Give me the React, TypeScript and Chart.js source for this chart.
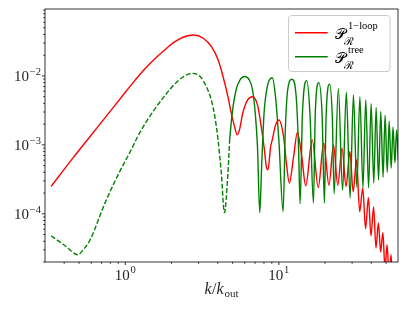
import React, { useEffect, useRef } from 'react';
import { Chart, registerables } from 'chart.js';
Chart.register(...registerables);

// ---- data ----
// tree-level, negative branch (plotted as |P|, dashed)
const treeNegK = [0.329, 0.402, 0.492, 0.525, 0.59, 0.737, 0.897, 1.093, 1.2, 1.33, 1.54, 1.79, 2.07, 2.40, 2.74, 3.07, 3.37, 3.63, 3.83, 4.02, 4.22, 4.42, 4.66, 4.78];
const treeNegP = [4.8e-5, 3.5e-5, 2.55e-5, 2.9e-5, 4.2e-5, 1.43e-4, 3.67e-4, 8.5e-4, 1.3e-3, 1.95e-3, 3.2e-3, 5.0e-3, 7.4e-3, 9.8e-3, 1.09e-2, 9.8e-3, 7.0e-3, 4.5e-3, 2.57e-3, 1.18e-3, 3.9e-4, 1.04e-4, 3.9e-4, 1.18e-3];

// tree-level, positive branch (solid)
const treePosK = [4.78, 4.97, 5.27, 5.59, 5.97, 6.42, 6.74, 7.02, 7.26, 7.51, 7.74, 8.01, 8.41, 9.06, 9.51, 10.0, 10.66, 11.02, 11.42, 12.17, 12.97, 13.43, 13.75, 14.25, 15.2, 15.94, 16.8, 17.27, 18.2, 19.15, 19.8, 20.3, 21.4, 22.3, 22.9, 24.4, 26.0, 27.5, 29.1, 30.6, 32.2, 33.7, 35.3, 36.8, 38.4, 39.9, 41.5, 43.0, 44.6, 46.1, 47.7, 49.2, 50.8, 52.3, 53.9, 55.4, 57.0, 58.5, 60.0];
const treePosP = [1.18e-3, 2.88e-3, 6.3e-3, 8.75e-3, 9.8e-3, 8.75e-3, 6.3e-3, 2.88e-3, 9.4e-4, 1.04e-4, 5.4e-4, 2.88e-3, 7.0e-3, 9.4e-3, 5.0e-3, 1.18e-3, 1.08e-4, 1.65e-3, 6.3e-3, 8.95e-3, 5.0e-3, 9.4e-4, 1.4e-4, 2.88e-3, 8.55e-3, 2.88e-3, 1.43e-4, 2.88e-3, 8.0e-3, 2.57e-3, 1.43e-4, 2.5e-3, 7.6e-3, 2.5e-3, 1.95e-4, 6.6e-3, 2.2e-4, 5.8e-3, 1.7e-4, 5.3e-3, 2.45e-4, 5.0e-3, 2.4e-4, 4.5e-3, 2.4e-4, 4.0e-3, 2.8e-4, 3.45e-3, 3.1e-4, 3.05e-3, 3.4e-4, 2.7e-3, 4.0e-4, 2.2e-3, 4.6e-4, 1.8e-3, 5.5e-4, 1.65e-3, 6.0e-4];

// one-loop
const loopK = [0.329, 0.45, 0.737, 1.0, 1.16, 1.33, 1.54, 1.79, 2.07, 2.40, 2.78, 3.22, 3.64, 4.02, 4.33, 4.66, 4.90, 5.15, 5.35, 5.54, 5.82, 6.26, 6.74, 7.26, 7.62, 8.01, 8.29, 8.5, 8.84, 9.06, 9.5, 10.0, 10.73, 11.2, 11.7, 12.48, 13.2, 14.1, 14.96, 16.5, 18.05, 19.6, 21.2, 22.7, 24.2, 25.8, 27.4, 29.0, 30.5, 32.05, 33.6, 35.2, 36.7, 38.3, 39.8, 41.4, 42.9, 44.5, 46.0, 47.6, 49.1, 50.7, 52.2, 53.8, 55.3, 56.9, 58.4, 60.0];
const loopP = [2.5e-4, 6.2e-4, 2.46e-3, 5.8e-3, 8.7e-3, 1.24e-2, 1.73e-2, 2.34e-2, 3.06e-2, 3.67e-2, 3.93e-2, 3.52e-2, 2.66e-2, 1.71e-2, 9.8e-3, 5.0e-3, 2.88e-3, 1.84e-3, 1.40e-3, 1.65e-3, 2.88e-3, 4.5e-3, 5.0e-3, 3.8e-3, 2.06e-3, 9.4e-4, 4.85e-4, 4.35e-4, 9.4e-4, 1.18e-3, 1.9e-3, 2.3e-3, 1.32e-3, 5.4e-4, 2.8e-4, 6.8e-4, 1.51e-3, 6.8e-4, 2.55e-4, 1.18e-3, 2.4e-4, 1.06e-3, 2.6e-4, 1.0e-3, 2.6e-4, 8.9e-4, 2.5e-4, 8.0e-4, 2.08e-4, 6.1e-4, 1.07e-4, 2.38e-4, 6.07e-5, 1.71e-4, 4.8e-5, 1.26e-4, 3.2e-5, 7.4e-5, 2.8e-5, 5.3e-5, 1.6e-5, 3.56e-5, 1.2e-5, 2.55e-5, 8e-6, 1.8e-5, 6e-6, 1.2e-5];

// axes
const X_MIN = 0.329;
const X_MAX = 59.7;
const Y_MIN = 2.0e-5;
const Y_MAX = 9.35e-2;
const xMajorTicks = [1, 10];
const xTickExps = ['0', '1'];
const xMinorTicks = [0.4, 0.5, 0.6, 0.7, 0.8, 0.9, 2, 3, 4, 5, 6, 7, 8, 9, 20, 30, 40, 50];
const yMajorTicks = [1e-4, 1e-3, 1e-2];
const yTickExps = ['\u22124', '\u22123', '\u22122'];
const yMinorTicks = [2e-5, 3e-5, 4e-5, 5e-5, 6e-5, 7e-5, 8e-5, 9e-5, 2e-4, 3e-4, 4e-4, 5e-4, 6e-4, 7e-4, 8e-4, 9e-4, 2e-3, 3e-3, 4e-3, 5e-3, 6e-3, 7e-3, 8e-3, 9e-3, 2e-2, 3e-2, 4e-2, 5e-2, 6e-2, 7e-2, 8e-2, 9e-2];

const legendLabels = [
  { sup: '1\u2212loop', color: '#ff0000' },
  { sup: 'tree', color: '#008000' },
];

const SERIF = '"Liberation Serif", "DejaVu Serif", serif';
const RED = '#ff0000';
const GREEN = '#008000';

function pts(ks: number[], ps: number[]) {
  return ks.map((k, i) => ({ x: k, y: ps[i] }));
}

function drawPow(ctx: CanvasRenderingContext2D, x: number, yBase: number, yExp: number, exp: string, align: 'right' | 'center') {
  ctx.font = `15px ${SERIF}`;
  const bw = ctx.measureText('10').width;
  ctx.font = `10.5px ${SERIF}`;
  const ew = ctx.measureText(exp).width;
  const total = bw + ew + 0.8;
  const x0 = align === 'right' ? x - total : x - total / 2;
  ctx.textAlign = 'left';
  ctx.textBaseline = 'alphabetic';
  ctx.font = `15px ${SERIF}`;
  ctx.fillText('10', x0, yBase);
  ctx.font = `10.5px ${SERIF}`;
  ctx.fillText(exp, x0 + bw + 0.8, yExp);
}

const axesPlugin = {
  id: 'mplAxes',
  afterDraw(chart: any) {
    const ctx: CanvasRenderingContext2D = chart.ctx;
    const { left, right, top, bottom } = chart.chartArea;
    const xs = chart.scales.x;
    const ys = chart.scales.y;
    ctx.save();
    // frame
    ctx.strokeStyle = '#000';
    ctx.lineWidth = 0.8;
    ctx.strokeRect(left, top, right - left, bottom - top);
    // ticks
    ctx.beginPath();
    xMajorTicks.forEach((v) => {
      const px = xs.getPixelForValue(v);
      ctx.moveTo(px, bottom);
      ctx.lineTo(px, bottom + 3.1);
    });
    xMinorTicks.forEach((v) => {
      const px = xs.getPixelForValue(v);
      ctx.moveTo(px, bottom);
      ctx.lineTo(px, bottom + 1.8);
    });
    yMajorTicks.forEach((v) => {
      const py = ys.getPixelForValue(v);
      ctx.moveTo(left, py);
      ctx.lineTo(left - 3.1, py);
    });
    yMinorTicks.forEach((v) => {
      const py = ys.getPixelForValue(v);
      ctx.moveTo(left, py);
      ctx.lineTo(left - 1.8, py);
    });
    ctx.stroke();
    // tick labels
    ctx.fillStyle = '#262626';
    xMajorTicks.forEach((v, i) => {
      const px = xs.getPixelForValue(v);
      drawPow(ctx, px, bottom + 18, bottom + 11, xTickExps[i], 'center');
    });
    yMajorTicks.forEach((v, i) => {
      const py = ys.getPixelForValue(v);
      drawPow(ctx, left - 4, py + 5.5, py - 0.5, yTickExps[i], 'right');
    });
    // x title k/k_out
    const cx = (left + right) / 2;
    const by = bottom + 32;
    ctx.font = `italic 16px ${SERIF}`;
    const wk = ctx.measureText('k').width;
    ctx.font = `16px ${SERIF}`;
    const ws = ctx.measureText('/').width;
    ctx.font = `11px ${SERIF}`;
    const wo = ctx.measureText('out').width;
    const tw = wk + ws + wk + wo + 1.5;
    let tx = cx - tw / 2;
    ctx.textAlign = 'left';
    ctx.font = `italic 16px ${SERIF}`;
    ctx.fillText('k', tx, by);
    tx += wk + 0.5;
    ctx.font = `16px ${SERIF}`;
    ctx.fillText('/', tx, by);
    tx += ws;
    ctx.font = `italic 16px ${SERIF}`;
    ctx.fillText('k', tx, by);
    tx += wk + 1;
    ctx.font = `11px ${SERIF}`;
    ctx.fillText('out', tx, by + 3);

    // legend
    const lx = 288.5, ly = 15.5, lw = 101.5, lh = 56, r = 3;
    ctx.beginPath();
    ctx.moveTo(lx + r, ly);
    ctx.lineTo(lx + lw - r, ly);
    ctx.quadraticCurveTo(lx + lw, ly, lx + lw, ly + r);
    ctx.lineTo(lx + lw, ly + lh - r);
    ctx.quadraticCurveTo(lx + lw, ly + lh, lx + lw - r, ly + lh);
    ctx.lineTo(lx + r, ly + lh);
    ctx.quadraticCurveTo(lx, ly + lh, lx, ly + lh - r);
    ctx.lineTo(lx, ly + r);
    ctx.quadraticCurveTo(lx, ly, lx + r, ly);
    ctx.closePath();
    ctx.fillStyle = 'rgba(255,255,255,0.8)';
    ctx.fill();
    ctx.strokeStyle = '#cccccc';
    ctx.lineWidth = 1;
    ctx.stroke();
    legendLabels.forEach((item, i) => {
      const yy = 32.7 + i * 24;
      ctx.strokeStyle = item.color;
      ctx.lineWidth = 1.4;
      ctx.beginPath();
      ctx.moveTo(295, yy);
      ctx.lineTo(327.7, yy);
      ctx.stroke();
      ctx.fillStyle = '#000';
      ctx.font = `15px ${SERIF}`;
      ctx.fillText('\u{1D4AB}', 335, yy + 6);
      const pw = ctx.measureText('\u{1D4AB}').width;
      ctx.font = `11px ${SERIF}`;
      ctx.fillText('\u211B', 335 + pw - 2, yy + 12);
      ctx.font = `10.5px ${SERIF}`;
      ctx.fillText(item.sup, 348, yy - 3.5);
    });
    ctx.restore();
  },
};

export default function App() {
  const ref = useRef<HTMLCanvasElement>(null);
  useEffect(() => {
    document.body.style.margin = '0';
    const canvas = ref.current!;
    const chart = new Chart(canvas, {
      type: 'line',
      data: {
        datasets: [
          {
            label: 'tree+',
            data: pts(treePosK, treePosP),
            borderColor: GREEN,
            borderWidth: 1.4,
            pointRadius: 0,
            fill: false,
            cubicInterpolationMode: 'monotone',
            order: 0,
          },
          {
            label: 'tree-',
            data: pts(treeNegK, treeNegP),
            borderColor: GREEN,
            borderWidth: 1.4,
            borderDash: [4.9, 2.1],
            pointRadius: 0,
            fill: false,
            cubicInterpolationMode: 'monotone',
            order: 0,
          },
          {
            label: '1-loop',
            data: pts(loopK, loopP),
            borderColor: RED,
            borderWidth: 1.4,
            pointRadius: 0,
            fill: false,
            cubicInterpolationMode: 'monotone',
            order: 1,
          },
        ],
      },
      options: {
        animation: false,
        responsive: false,
        devicePixelRatio: 1,
        layout: { padding: { left: 45, right: 9, top: 9, bottom: 51 } },
        scales: {
          x: { type: 'logarithmic', min: X_MIN, max: X_MAX, display: false },
          y: { type: 'logarithmic', min: Y_MIN, max: Y_MAX, display: false },
        },
        plugins: { legend: { display: false }, tooltip: { enabled: false } },
        elements: { point: { radius: 0 } },
      },
      plugins: [axesPlugin],
    } as any);
    return () => chart.destroy();
  }, []);
  return (
    <div style={{ width: 407, height: 313, background: '#fff' }}>
      <canvas ref={ref} width={407} height={313} style={{ display: 'block' }} />
    </div>
  );
}
